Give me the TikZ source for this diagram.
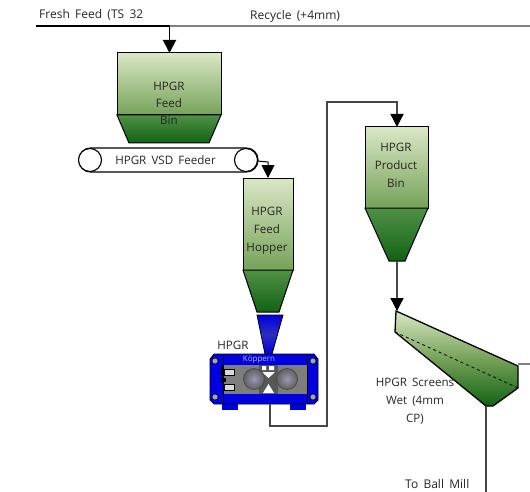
\documentclass[tikz,border=0pt]{standalone}
\usepackage{fontspec}
\setmainfont[WordSpace=1.7]{Open Sans}
\usetikzlibrary{arrows.meta}
\definecolor{lgA}{RGB}{218,231,198}
\definecolor{lgB}{RGB}{118,162,88}
\definecolor{dgA}{RGB}{80,145,70}
\definecolor{dgB}{RGB}{18,98,20}
\definecolor{pipe}{RGB}{70,70,70}
\definecolor{mblue}{RGB}{0,0,225}
\definecolor{mgray}{RGB}{125,125,125}
\tikzset{
  x=1pt,y=-1pt,
  upperpart/.style={draw=black,line width=1pt,top color=lgA,bottom color=lgB},
  lowerpart/.style={draw=black,line width=1pt,top color=dgA,bottom color=dgB},
  pipeline/.style={draw=pipe,line width=1.3pt},
  feedline/.style={draw=black,line width=1.3pt},
  dropline/.style={draw=black,line width=1.9pt},
  arrowed/.style={-{Triangle[length=13pt,width=13pt,color=black,fill=black]}},
  lbl/.style={font=\fontsize{11.6}{18}\selectfont,text=black!85,inner sep=0pt,align=center},
  toplbl/.style={lbl,anchor=west,font=\fontsize{12}{18}\selectfont},
  roll/.style={draw=black!70,line width=.8pt,inner color=blue!15!gray!70!white,outer color=gray!75!black,circle,inner sep=0pt,minimum size=21pt},
  pulley/.style={draw=black,line width=1.1pt,fill=white,circle,inner sep=0pt,minimum size=23pt},
}
\begin{document}
\begin{tikzpicture}
\useasboundingbox (0,0) rectangle (530,492);
\fill[white] (0,0) rectangle (530,492);
% named points
\coordinate (feedstart) at (36,26);
\coordinate (junction) at (169.5,26);
\coordinate (recycleend) at (530,26);
\coordinate (binin) at (169.5,53);
\coordinate (hopperin) at (268,178);
\coordinate (prodin) at (397,127);
\coordinate (prodout) at (397,261);
\coordinate (screenin) at (397,311);
\coordinate (screenover) at (518,364);
\coordinate (overend) at (530,364);
\coordinate (screenunder) at (486,406);
\coordinate (underend) at (486,492);
\coordinate (rollerout) at (270,404);
\coordinate (beltout) at (257,161);
% feed bin
\path[upperpart] (117,53) rectangle (221,115);
\path[lowerpart] (117,115) -- (221,115) -- (209,143) -- (129,143) -- cycle;
\node[lbl,font=\fontsize{11.6}{17}\selectfont] (feedbin) at (169,103) {HPGR\\Feed\\Bin};
% conveyor
\draw[line width=1.1pt,fill=white,rounded corners=11.5pt] (79,148) rectangle (258,172);
\node[pulley] (pulleyA) at (90,160) {};
\node[pulley] (pulleyB) at (246,160) {};
\node[lbl] (feeder) at (165.5,160.5) {HPGR VSD Feeder};
% feed hopper
\path[upperpart] (243,178) rectangle (293,270);
\path[lowerpart] (243,270) -- (293,270) -- (279,312) -- (257,312) -- cycle;
\node[lbl] (hopper) at (267,231) {HPGR\\Feed\\Hopper};
% blue funnel
\path[draw=black,line width=.8pt,top color=mblue,bottom color=mblue,middle color=mblue!65!gray] (257,315) -- (283,315) -- (272,354) -- (265,354) -- cycle;
% machine
\fill[mblue] (222,403) rectangle (238,410);
\fill[mblue] (290,403) rectangle (306,410);
\path[draw=black,line width=.7pt,fill=mblue] (214,354) -- (314,354) -- (318,359) -- (318,400) -- (314,404) -- (214,404) -- (210,400) -- (210,359) -- cycle;
\fill[mgray] (223,365) rectangle (307,394);
\draw[black,line width=.7pt] (223,354) -- (223,404) (307,354) -- (307,404);
\fill[mgray!70!black] (259,365) rectangle (278,394);
\fill[white] (262,366) rectangle (266,370) (269,366) rectangle (274,370);
\fill[white] (262,372) -- (275,372) -- (268.5,378) -- cycle;
\fill[white] (268.5,384) -- (274,393) -- (263,393) -- cycle;
\node[roll] (rollA) at (254,379) {};
\node[roll] (rollB) at (287,379) {};
\draw[black,fill=white!70!gray,line width=.7pt] (224,369) rectangle (234,375);
\draw[black,fill=white!70!gray,line width=.7pt] (224,384) rectangle (234,390);
\fill[black] (221,378) rectangle (226,382);
\fill[black] (221,366) rectangle (224,376);
\foreach \p/\q in {215/361,215/397,313/361,313/397}
  \fill[gray!70,draw=black,line width=.5pt] (\p,\q) circle (3);
\node[font=\fontsize{8}{8}\selectfont,text=white!75!blue,inner sep=0pt] (brand) at (259,359.5) {Köppern};
\node[lbl] (hpgrlabel) at (233,345) {HPGR};
% product bin
\path[upperpart] (365,127) rectangle (428,208);
\path[lowerpart] (365,208) -- (428,208) -- (405,261) -- (389,261) -- cycle;
\node[lbl] (prodbin) at (396,165) {HPGR\\Product\\Bin};
% screen
\path[draw=black,line width=1.3pt,top color=lgA,bottom color=dgB,middle color=lgB] (396,311) -- (518,366) -- (518,388) -- (493,406) -- (486,406) -- (395,332) -- cycle;
\draw[black,line width=.8pt,dashed] (395,332) -- (518,388);
\node[lbl] (screenlabel) at (415,401) {HPGR Screens\\Wet (4mm\\CP)};
% lines
\draw[feedline] (feedstart) -- (junction);
\draw[draw=gray,line width=1.3pt] (junction) -- (recycleend);
\draw[dropline,arrowed] (junction) -- (binin);
\draw[line width=1pt,arrowed] (beltout) -- (268,162) -- (hopperin);
\draw[pipeline,arrowed] (rollerout) -- (270,426) -- (327,426) -- (327,102) -- (397,102) -- (prodin);
\draw[pipeline,arrowed] (prodout) -- (screenin);
\draw[draw=gray,line width=1.3pt] (screenover) -- (overend);
\draw[pipeline] (screenunder) -- (underend);
% labels
\node[toplbl] (fresh) at (39,15) {Fresh Feed (TS 32};
\node[toplbl] (recycle) at (250,16) {Recycle (+4mm)};
\node[toplbl] (ballmill) at (405,484) {To Ball Mill};
\end{tikzpicture}
\end{document}
